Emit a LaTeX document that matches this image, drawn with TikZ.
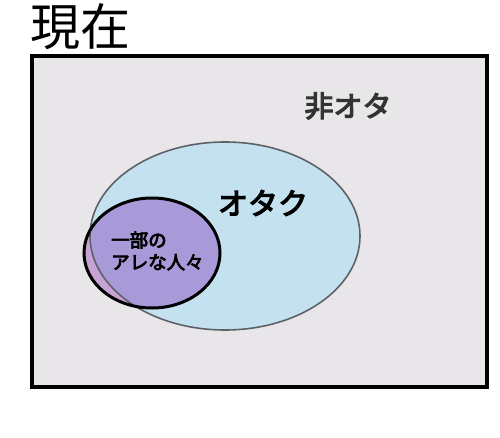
\documentclass[tikz,border=0pt]{standalone}
\usepackage{fontspec}
\newfontfamily\cjk{Noto Sans CJK JP}
\newfontfamily\cjkbold[FakeBold=4]{Noto Sans CJK JP}
\usetikzlibrary{shapes.geometric}
\definecolor{bggray}{HTML}{E8E6E8}
\definecolor{otablue}{HTML}{C4E1EF}
\definecolor{arepurple}{HTML}{A899D9}
\definecolor{arepink}{HTML}{C7A3D5}
\definecolor{rimgray}{HTML}{5E6266}
\definecolor{textgray}{HTML}{333333}
\tikzset{
  lbl/.style={inner sep=0pt, font=\cjkbold},
}
\begin{document}
\begin{tikzpicture}[x=1pt,y=-1pt]
\useasboundingbox (0,0) rectangle (500,438);
\fill[white] (0,0) rectangle (500,438);
% title
\node[inner sep=0pt, font=\cjk\fontsize{50}{50}\selectfont] (title) at (80,27) {現在};
% frame
\fill[bggray] (32,56) rectangle (487,387);
% big ellipse
\fill[otablue] (225,236) ellipse [x radius=135, y radius=94];
% small ellipse
\fill[arepink] (152,253) ellipse [x radius=68, y radius=55];
\begin{scope}
  \clip (225,236) ellipse [x radius=135, y radius=94];
  \fill[arepurple] (152,253) ellipse [x radius=68, y radius=55];
\end{scope}
\draw[rimgray, line width=1.6pt] (225,236) ellipse [x radius=135, y radius=94];
\draw[black, line width=3pt] (152,253) ellipse [x radius=68, y radius=55];
\draw[black, line width=4pt] (32,56) rectangle (487,387);
% labels
\node[lbl, textgray, font=\cjkbold\fontsize{29}{29}\selectfont] (nonota) at (348,106) {非オタ};
\node[lbl, font=\cjkbold\fontsize{30}{30}\selectfont] (otaku) at (263,203) {オタク};
\node[lbl, font=\cjkbold\fontsize{18.5}{22}\selectfont, align=left, anchor=west] (are) at (111,251) {一部の\\アレな人々};
\end{tikzpicture}
\end{document}
